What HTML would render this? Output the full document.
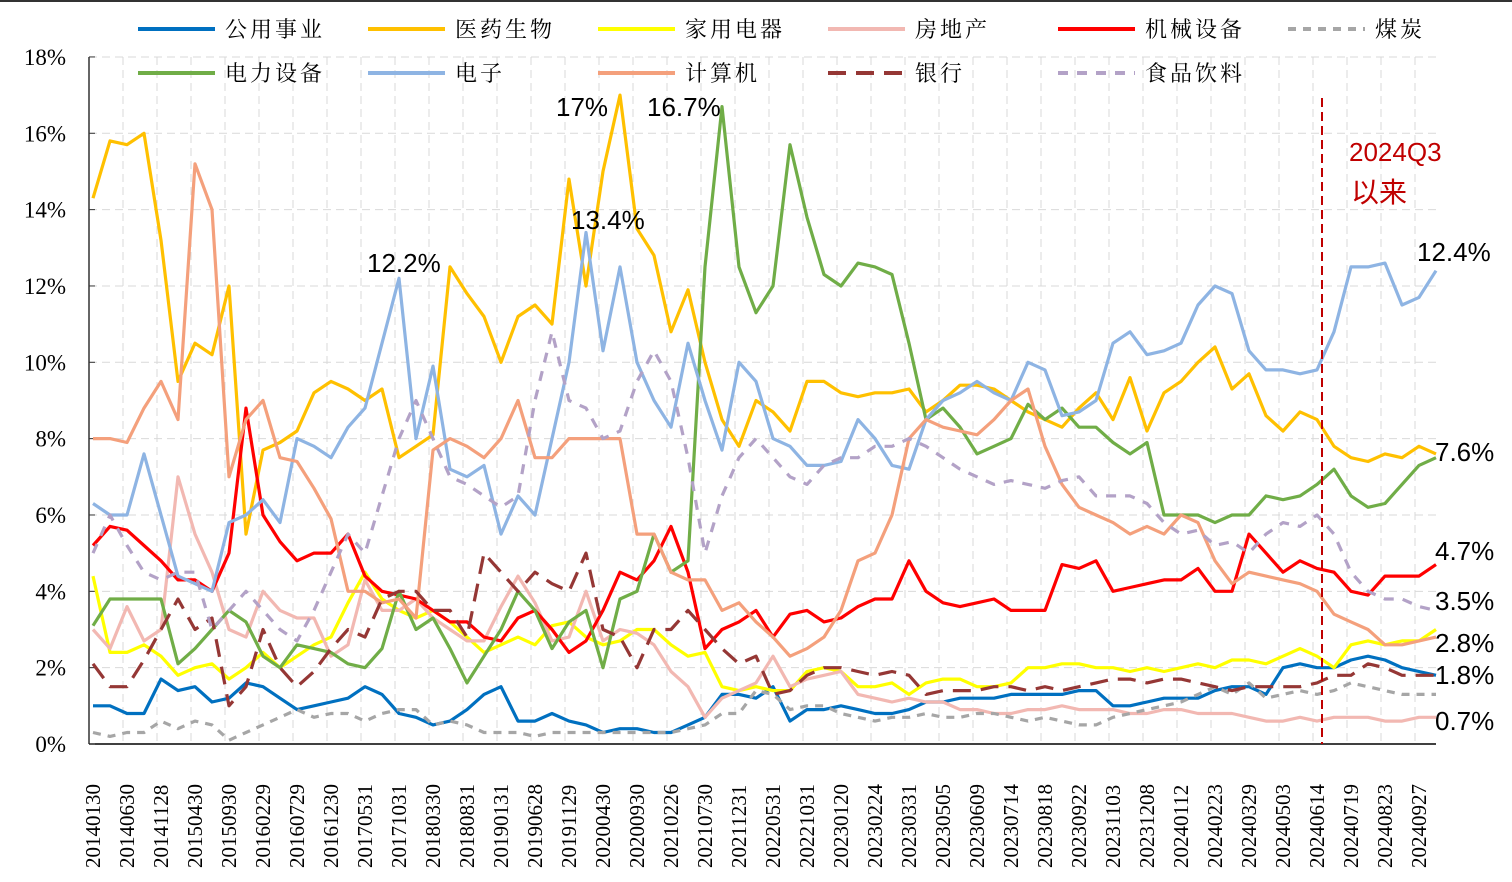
<!DOCTYPE html>
<html><head><meta charset="utf-8">
<style>
html,body{margin:0;padding:0;background:#fff;}
svg{display:block;}
.leg{font-family:"Liberation Serif","Noto Serif CJK SC",serif;font-size:22px;fill:#000;letter-spacing:3px;}
.tick{font-family:"Liberation Serif","Noto Serif CJK SC",serif;font-size:21px;fill:#000;}
.ytick{font-family:"Liberation Serif","Noto Serif CJK SC",serif;font-size:23px;fill:#000;}
.ann{font-family:"Liberation Sans","Noto Sans CJK SC",sans-serif;font-size:26px;fill:#000;}
</style></head>
<body>
<svg id="chart" width="1512" height="882" viewBox="0 0 1512 882" xmlns="http://www.w3.org/2000/svg">
<rect x="0" y="0" width="1512" height="882" fill="#fff"/>
<line x1="0" y1="1" x2="1512" y2="1" stroke="#333" stroke-width="2"/>
<g id="grid"></g><g id="axes"></g><g id="series"></g><g id="legend"></g><g id="anns"></g>
</svg>
<script>
const categories=["20140130","20140630","20141128","20150430","20150930","20160229","20160729","20161230","20170531","20171031","20180330","20180831","20190131","20190628","20191129","20200430","20200930","20210226","20210730","20211231","20220531","20221031","20230120","20230224","20230331","20230505","20230609","20230714","20230818","20230922","20231103","20231208","20240112","20240223","20240329","20240503","20240614","20240719","20240823","20240927"];
const yTicks=[0,2,4,6,8,10,12,14,16,18];
const sUtil=[1.0,1.0,0.8,0.8,1.7,1.4,1.5,1.1,1.2,1.6,1.5,1.2,0.9,1.0,1.1,1.2,1.5,1.3,0.8,0.7,0.5,0.6,0.9,1.3,1.5,0.6,0.6,0.8,0.6,0.5,0.3,0.4,0.4,0.3,0.3,0.5,0.7,1.3,1.3,1.2,1.5,0.6,0.9,0.9,1.0,0.9,0.8,0.8,0.9,1.1,1.1,1.2,1.2,1.2,1.3,1.3,1.3,1.3,1.4,1.4,1.0,1.0,1.1,1.2,1.2,1.2,1.4,1.5,1.5,1.3,2.0,2.1,2.0,2.0,2.2,2.3,2.2,2.0,1.9,1.8];
const sPharma=[14.3,15.8,15.7,16.0,13.2,9.5,10.5,10.2,12.0,5.5,7.7,7.9,8.2,9.2,9.5,9.3,9.0,9.3,7.5,7.8,8.1,12.5,11.8,11.2,10.0,11.2,11.5,11.0,14.8,12.0,15.0,17.0,13.5,12.8,10.8,11.9,10.0,8.5,7.8,9.0,8.7,8.2,9.5,9.5,9.2,9.1,9.2,9.2,9.3,8.7,9.0,9.4,9.4,9.3,9.0,8.7,8.5,8.3,8.8,9.2,8.5,9.6,8.2,9.2,9.5,10.0,10.4,9.3,9.7,8.6,8.2,8.7,8.5,7.8,7.5,7.4,7.6,7.5,7.8,7.6];
const sAppl=[4.4,2.4,2.4,2.6,2.3,1.8,2.0,2.1,1.7,2.0,2.4,2.0,2.3,2.6,2.8,3.7,4.5,3.8,3.5,3.3,3.5,3.2,2.8,2.4,2.6,2.8,2.6,3.1,3.2,2.8,2.6,2.7,3.0,3.0,2.6,2.3,2.4,1.5,1.4,1.5,1.4,1.4,1.9,2.0,1.9,1.5,1.5,1.6,1.3,1.6,1.7,1.7,1.5,1.5,1.6,2.0,2.0,2.1,2.1,2.0,2.0,1.9,2.0,1.9,2.0,2.1,2.0,2.2,2.2,2.1,2.3,2.5,2.3,2.0,2.6,2.7,2.6,2.7,2.7,3.0];
const sRealty=[3.0,2.5,3.6,2.7,3.0,7.0,5.5,4.5,3.0,2.8,4.0,3.5,3.3,3.3,2.3,2.6,4.3,3.5,3.5,3.8,3.3,3.0,2.7,2.7,3.6,4.4,3.7,2.7,2.8,4.0,2.7,3.0,2.9,2.6,1.9,1.5,0.7,1.2,1.4,1.6,2.3,1.5,1.7,1.8,1.9,1.3,1.2,1.1,1.2,1.1,1.1,0.9,0.9,0.8,0.8,0.9,0.9,1.0,0.9,0.9,0.9,0.8,0.8,0.9,0.9,0.8,0.8,0.8,0.7,0.6,0.6,0.7,0.6,0.7,0.7,0.7,0.6,0.6,0.7,0.7];
const sMach=[5.2,5.7,5.6,5.2,4.8,4.3,4.3,4.0,5.0,8.8,6.0,5.3,4.8,5.0,5.0,5.5,4.4,4.0,3.9,3.8,3.5,3.2,3.2,2.8,2.7,3.3,3.5,3.0,2.4,2.7,3.5,4.5,4.3,4.8,5.7,4.5,2.5,3.0,3.2,3.5,2.8,3.4,3.5,3.2,3.3,3.6,3.8,3.8,4.8,4.0,3.7,3.6,3.7,3.8,3.5,3.5,3.5,4.7,4.6,4.8,4.0,4.1,4.2,4.3,4.3,4.6,4.0,4.0,5.5,5.0,4.5,4.8,4.6,4.5,4.0,3.9,4.4,4.4,4.4,4.7];
const sCoal=[0.3,0.2,0.3,0.3,0.6,0.4,0.6,0.5,0.1,0.3,0.5,0.7,0.9,0.7,0.8,0.8,0.6,0.8,0.9,0.9,0.5,0.6,0.5,0.3,0.3,0.3,0.2,0.3,0.3,0.3,0.3,0.3,0.3,0.3,0.3,0.4,0.5,0.8,0.8,1.4,1.3,0.9,1.0,1.0,0.8,0.7,0.6,0.7,0.7,0.8,0.7,0.7,0.8,0.8,0.7,0.6,0.7,0.6,0.5,0.5,0.7,0.8,0.9,1.0,1.1,1.3,1.5,1.3,1.6,1.2,1.3,1.4,1.3,1.4,1.6,1.5,1.4,1.3,1.3,1.3];
const sPower=[3.1,3.8,3.8,3.8,3.8,2.1,2.5,3.0,3.5,3.2,2.3,2.0,2.6,2.5,2.4,2.1,2.0,2.5,4.0,3.0,3.3,2.5,1.6,2.3,3.0,4.0,3.5,2.5,3.2,3.5,2.0,3.8,4.0,5.5,4.5,4.8,12.5,16.7,12.5,11.3,12.0,15.7,13.8,12.3,12.0,12.6,12.5,12.3,10.5,8.5,8.8,8.3,7.6,7.8,8.0,8.9,8.5,8.8,8.3,8.3,7.9,7.6,7.9,6.0,6.0,6.0,5.8,6.0,6.0,6.5,6.4,6.5,6.8,7.2,6.5,6.2,6.3,6.8,7.3,7.5];
const sElec=[6.3,6.0,6.0,7.6,6.0,4.4,4.2,4.0,5.8,6.0,6.4,5.8,8.0,7.8,7.5,8.3,8.8,10.5,12.2,8.0,9.9,7.2,7.0,7.3,5.5,6.5,6.0,8.0,10.0,13.4,10.3,12.5,10.0,9.0,8.3,10.5,9.0,7.7,10.0,9.5,8.0,7.8,7.3,7.3,7.4,8.5,8.0,7.3,7.2,8.5,9.0,9.2,9.5,9.2,9.0,10.0,9.8,8.6,8.7,9.0,10.5,10.8,10.2,10.3,10.5,11.5,12.0,11.8,10.3,9.8,9.8,9.7,9.8,10.8,12.5,12.5,12.6,11.5,11.7,12.4];
const sComp=[8.0,8.0,7.9,8.8,9.5,8.5,15.2,14.0,7.0,8.5,9.0,7.5,7.4,6.7,5.9,4.0,4.0,3.7,3.8,3.3,7.7,8.0,7.8,7.5,8.0,9.0,7.5,7.5,8.0,8.0,8.0,8.0,5.5,5.5,4.5,4.3,4.3,3.5,3.7,3.2,2.8,2.3,2.5,2.8,3.5,4.8,5.0,6.0,8.0,8.5,8.3,8.2,8.1,8.5,9.0,9.3,7.8,6.8,6.2,6.0,5.8,5.5,5.7,5.5,6.0,5.8,4.8,4.2,4.5,4.4,4.3,4.2,4.0,3.4,3.2,3.0,2.6,2.6,2.7,2.8];
const sBank=[2.1,1.5,1.5,2.2,3.0,3.8,3.0,3.3,1.0,1.5,3.0,2.0,1.5,1.9,2.5,3.0,2.8,3.8,4.0,4.0,3.5,3.5,2.8,5.0,4.5,4.0,4.5,4.2,4.0,5.0,3.0,2.8,2.0,3.0,3.0,3.5,3.0,2.5,2.1,2.3,1.3,1.4,1.8,2.0,2.0,1.9,1.8,1.9,1.8,1.3,1.4,1.4,1.4,1.5,1.5,1.4,1.5,1.4,1.5,1.6,1.7,1.7,1.6,1.7,1.7,1.6,1.5,1.4,1.5,1.5,1.5,1.5,1.6,1.8,1.8,2.1,2.0,1.8,1.8,1.8];
const sFood=[5.0,6.0,5.2,4.5,4.3,4.5,4.5,3.0,3.5,4.0,3.5,3.0,2.7,3.5,4.5,5.5,5.0,6.5,8.0,9.0,8.0,7.0,6.8,6.5,6.2,6.5,9.0,10.8,9.0,8.8,8.0,8.2,9.5,10.3,9.5,7.5,5.0,6.5,7.5,8.0,7.5,7.0,6.8,7.3,7.5,7.5,7.8,7.8,8.0,7.8,7.5,7.2,7.0,6.8,6.9,6.8,6.7,6.9,7.0,6.5,6.5,6.5,6.3,5.8,5.5,5.6,5.2,5.3,5.0,5.5,5.8,5.7,6.0,5.5,4.5,4.0,3.8,3.8,3.6,3.5];
const seriesNames=["公用事业","医药生物","家用电器","房地产","机械设备","煤炭","电力设备","电子","计算机","银行","食品饮料"];
const seriesData=[sUtil,sPharma,sAppl,sRealty,sMach,sCoal,sPower,sElec,sComp,sBank,sFood];
const seriesColors=["#0070C0","#FFC000","#FFFF00","#F2B8B2","#FF0000","#A6A6A6","#70AD47","#8EB4E3","#F4A07C","#953735","#B3A2C7"];
const seriesDash=["","","","","","8,7","","","","18,10","10,9"];
const annTexts=["17%","16.7%","13.4%","12.2%","12.4%","7.6%","4.7%","3.5%","2.8%","1.8%","0.7%"];

const NS="http://www.w3.org/2000/svg";
const X0=93,DX=17,Y0=744,PPU=38.17;
const xS=i=>X0+DX*i;
const yS=v=>Y0-v*PPU;
function mk(tag,attrs,parent){const e=document.createElementNS(NS,tag);for(const k in attrs)e.setAttribute(k,attrs[k]);parent.appendChild(e);return e;}
const grid=document.getElementById('grid'),axes=document.getElementById('axes'),ser=document.getElementById('series'),leg=document.getElementById('legend'),anns=document.getElementById('anns');
for(const t of yTicks){if(t===0)continue;const l=mk('line',{x1:89,x2:1436,y1:yS(t),y2:yS(t),stroke:'#D9D9D9','stroke-dasharray':'8,5','stroke-width':1},grid);

}
for(let k=1;k<=40;k++){const x=89+34*k;if(x>1436)break;const l=mk('line',{x1:x,x2:x,y1:yS(18),y2:Y0,stroke:'#D9D9D9','stroke-dasharray':'8,5','stroke-width':1},grid);

}
const ya=mk('line',{x1:89,x2:89,y1:yS(18),y2:Y0,stroke:'#333','stroke-width':1.5},axes);


const xa=mk('line',{x1:89,x2:1436,y1:Y0,y2:Y0,stroke:'#000','stroke-width':1.5},axes);


for(const t of yTicks){const tk=mk('line',{x1:89,x2:95,y1:yS(t),y2:yS(t),stroke:'#333'},axes);


const tx=mk('text',{x:66,y:yS(t)+8,'text-anchor':'end',class:'ytick'},axes);tx.textContent=t+'%';

}
categories.forEach((c,k)=>{const x=xS(2*k);const tx=mk('text',{transform:`translate(${x+7},868) rotate(-90)`,class:'tick'},axes);tx.textContent=c;

});
seriesData.forEach((d,s)=>{const pts=d.map((v,i)=>xS(i)+','+yS(v).toFixed(1)).join(' ');
const p=mk('polyline',{points:pts,fill:'none',stroke:seriesColors[s],'stroke-width':3.2,'stroke-linejoin':'round'},ser);
if(seriesDash[s])p.setAttribute('stroke-dasharray',seriesDash[s]);

});
const vl=mk('line',{x1:1322,x2:1322,y1:98,y2:Y0,stroke:'#C00000','stroke-width':2,'stroke-dasharray':'9,5'},ser);


const colX=[138,368,598,828,1058,1288];
seriesData.forEach((d,s)=>{const row=s<6?0:1,col=s<6?s:s-6;const x=colX[col],y=row?73:29;
const l=mk('line',{x1:x,x2:x+77,y1:y,y2:y,stroke:seriesColors[s],'stroke-width':4},leg);
if(seriesDash[s])l.setAttribute('stroke-dasharray',seriesDash[s]);


const t=mk('text',{x:x+87,y:y+8,class:'leg'},leg);t.textContent=seriesNames[s];

});
const annPos=[[556,116],[647,116],[571,229],[367,272],[1417,261],[1435,461],[1435,560],[1435,610],[1435,652],[1435,684],[1435,730]];
annTexts.forEach((a,k)=>{const t=mk('text',{x:annPos[k][0],y:annPos[k][1],class:'ann'},anns);t.textContent=a;

});
const r1=mk('text',{x:1349,y:161,class:'ann',style:'fill:#C00000'},anns);r1.textContent='2024Q3';


const r2=mk('text',{x:1351,y:202,class:'ann',style:'fill:#C00000;font-size:28px'},anns);r2.textContent='以来';


</script>
</body></html>
